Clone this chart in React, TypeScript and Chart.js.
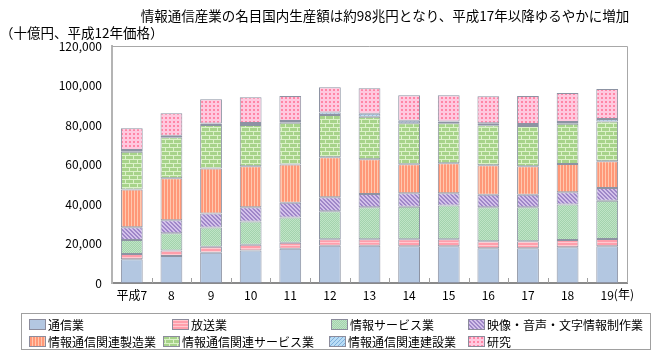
import React, { useEffect, useRef } from 'react';
import { Chart, registerables } from 'chart.js';

Chart.register(...registerables);

const chartTitle = '情報通信産業の名目国内生産額は約98兆円となり、平成17年以降ゆるやかに増加';
const yAxisTitle = '（十億円、平成12年価格）';
const categories = ['平成7', '8', '9', '10', '11', '12', '13', '14', '15', '16', '17', '18', '19'];
const xUnit = '(年)';
const yMax = 120000;
const yStep = 20000;

const seriesNames = [
  '通信業',
  '放送業',
  '情報サービス業',
  '映像・音声・文字情報制作業',
  '情報通信関連製造業',
  '情報通信関連サービス業',
  '情報通信関連建設業',
  '研究',
];

const tsushin = [12000, 13700, 15300, 16400, 17400, 18900, 18900, 18600, 18600, 17600, 17600, 18100, 18600];
const hoso = [2700, 2700, 3000, 3000, 3000, 3200, 3200, 3500, 3500, 3500, 3500, 3700, 3700];
const johoService = [7100, 8800, 9800, 11800, 12800, 14200, 16200, 16500, 17200, 17200, 17200, 17900, 19400];
const eizo = [6400, 6600, 7100, 7100, 7400, 7100, 6800, 6800, 6100, 6400, 6400, 6300, 6400];
const seizo = [19200, 21300, 22800, 20800, 19400, 20300, 17500, 14700, 15200, 14900, 14400, 14200, 13500];
const kanrenService = [19100, 20700, 22000, 20900, 21100, 21400, 21600, 20800, 20300, 20300, 20400, 20400, 20200];
const kensetsu = [800, 700, 700, 1000, 900, 1200, 1500, 1200, 900, 1000, 1000, 900, 1200];
const kenkyu = [11000, 11500, 12300, 13000, 12700, 12800, 12900, 13000, 13300, 13700, 14200, 14700, 15200];

const seriesValues = [tsushin, hoso, johoService, eizo, seizo, kanrenService, kensetsu, kenkyu];

const FONT = "'Noto Sans CJK JP', 'Noto Sans', sans-serif";

function makePattern(w: number, h: number, draw: (g: CanvasRenderingContext2D) => void): CanvasPattern | string {
  const c = document.createElement('canvas');
  c.width = w;
  c.height = h;
  const g = c.getContext('2d');
  if (!g) return '#ccc';
  draw(g);
  return g.createPattern(c, 'repeat') || '#ccc';
}

function px(g: CanvasRenderingContext2D, color: string, pts: number[][]) {
  g.fillStyle = color;
  pts.forEach(([x, y, w = 1, h = 1]) => g.fillRect(x, y, w, h));
}

function buildFills(): (CanvasPattern | string)[] {
  const blue = '#b3c7e1';
  const pinkStripe = makePattern(2, 3, (g) => {
    g.fillStyle = '#ff9eab';
    g.fillRect(0, 0, 2, 3);
    px(g, '#ffc9d0', [[0, 2, 2, 1]]);
  });
  const greenDot = makePattern(2, 2, (g) => {
    g.fillStyle = '#a3d3ad';
    g.fillRect(0, 0, 2, 2);
    px(g, '#c0e4c6', [[0, 0], [1, 1]]);
  });
  const purpleDiag = makePattern(4, 4, (g) => {
    g.fillStyle = '#d3c1ea';
    g.fillRect(0, 0, 4, 4);
    px(g, '#9f87c8', [[0, 0], [1, 0], [1, 1], [2, 1], [2, 2], [3, 2], [3, 3], [0, 3]]);
  });
  const orangeVert = makePattern(3, 1, (g) => {
    g.fillStyle = '#ff9878';
    g.fillRect(0, 0, 3, 1);
    px(g, '#ffc8ae', [[2, 0]]);
  });
  const greenBrick = makePattern(8, 8, (g) => {
    g.fillStyle = '#a7d38a';
    g.fillRect(0, 0, 8, 8);
    px(g, '#dcf2c9', [[0, 3, 8, 1], [0, 7, 8, 1], [1, 0, 1, 3], [5, 4, 1, 3]]);
  });
  const blueDiag = makePattern(4, 4, (g) => {
    g.fillStyle = '#b9dcf5';
    g.fillRect(0, 0, 4, 4);
    px(g, '#7eb0dc', [[3, 0], [2, 1], [1, 2], [0, 3]]);
  });
  const pinkDots = makePattern(4, 4, (g) => {
    g.fillStyle = '#ffc9df';
    g.fillRect(0, 0, 4, 4);
    px(g, '#ff86a6', [[1, 1, 2, 2]]);
  });
  return [blue, pinkStripe, greenDot, purpleDiag, orangeVert, greenBrick, blueDiag, pinkDots];
}

const decorPlugin = {
  id: 'decor',
  afterDraw(chart: any) {
    const ctx: CanvasRenderingContext2D = chart.ctx;
    const a = chart.chartArea;
    const xs = chart.scales.x;
    ctx.save();

    // top & right frame
    ctx.strokeStyle = '#a8a8a8';
    ctx.lineWidth = 1;
    ctx.beginPath();
    ctx.moveTo(a.left, Math.round(a.top) + 0.5);
    ctx.lineTo(Math.round(a.right) + 0.5, Math.round(a.top) + 0.5);
    ctx.lineTo(Math.round(a.right) + 0.5, a.bottom);
    ctx.stroke();

    // inward ticks at category boundaries
    ctx.strokeStyle = '#a0a0a0';
    for (let i = 1; i < categories.length; i++) {
      const x = Math.round((xs.getPixelForValue(i - 1) + xs.getPixelForValue(i)) / 2) + 0.5;
      ctx.beginPath();
      ctx.moveTo(x, a.bottom - 5);
      ctx.lineTo(x, a.bottom);
      ctx.stroke();
    }

    // unit after last category label
    ctx.fillStyle = '#000';
    ctx.font = `12px ${FONT}`;
    ctx.textBaseline = 'middle';
    const lastIdx = categories.length - 1;
    const lx = xs.getPixelForValue(lastIdx);
    const lw = ctx.measureText(categories[lastIdx]).width;
    ctx.textAlign = 'left';
    ctx.fillText(xUnit, lx + lw / 2, a.bottom + 11);

    // titles
    ctx.font = `13.5px ${FONT}`;
    ctx.textAlign = 'center';
    ctx.fillText(chartTitle, 385, 16);
    ctx.textAlign = 'left';
    ctx.fillText(yAxisTitle, 0, 33);

    // legend
    ctx.strokeStyle = '#a0a0a0';
    ctx.strokeRect(21.5, 313.5, 629, 36);
    const sx = [29, 172, 331, 468, 29, 163, 329, 468];
    const rowY = [324, 341];
    ctx.font = `12px ${FONT}`;
    chart.data.datasets.forEach((ds: any, i: number) => {
      const x = sx[i];
      const y = rowY[Math.floor(i / 4)];
      ctx.fillStyle = ds.backgroundColor;
      ctx.fillRect(x, y - 5, 17, 11);
      ctx.strokeStyle = '#8c8c9c';
      ctx.strokeRect(x + 0.5, y - 4.5, 16, 10);
      ctx.fillStyle = '#000';
      ctx.textAlign = 'left';
      ctx.fillText(ds.label, x + 19, y + 1);
    });

    ctx.restore();
  },
};

export default function App() {
  const ref = useRef<HTMLCanvasElement | null>(null);

  useEffect(() => {
    if (!ref.current) return;
    Chart.defaults.font.family = FONT;
    const fills = buildFills();
    const chart = new Chart(ref.current, {
      type: 'bar',
      data: {
        labels: categories,
        datasets: seriesNames.map((name, i) => ({
          label: name,
          data: seriesValues[i],
          backgroundColor: fills[i] as any,
          borderColor: '#8d93a3',
          borderWidth: 1,
          borderSkipped: false,
          barPercentage: 0.55,
          categoryPercentage: 1,
        })),
      },
      options: {
        responsive: false,
        animation: false,
        layout: { padding: { left: 0, right: 35, top: 46, bottom: 57 } },
        plugins: {
          legend: { display: false },
          title: { display: false },
          tooltip: { enabled: false },
        },
        scales: {
          x: {
            stacked: true,
            grid: { display: false, drawTicks: false },
            border: { display: true, color: '#8a8a8a', width: 2 },
            ticks: { color: '#000', font: { size: 12, family: FONT }, padding: 5, maxRotation: 0, autoSkip: false },
            afterFit: (s: any) => {
              s.height = 20;
            },
          },
          y: {
            stacked: true,
            min: 0,
            max: yMax,
            grid: { display: false, drawTicks: false },
            border: { display: true, color: '#b4b4b4', width: 2 },
            ticks: {
              stepSize: yStep,
              color: '#000',
              font: { size: 12, family: FONT },
              padding: 10,
              callback: (v: any) => Number(v).toLocaleString('en-US'),
            },
            afterFit: (s: any) => {
              s.width = 112;
            },
          },
        },
      },
      plugins: [decorPlugin],
    });
    return () => chart.destroy();
  }, []);

  return (
    <div style={{ position: 'fixed', left: 0, top: 0, width: 662, height: 360, background: '#fff' }}>
      <canvas ref={ref} width={662} height={360} style={{ width: 662, height: 360 }} />
    </div>
  );
}
